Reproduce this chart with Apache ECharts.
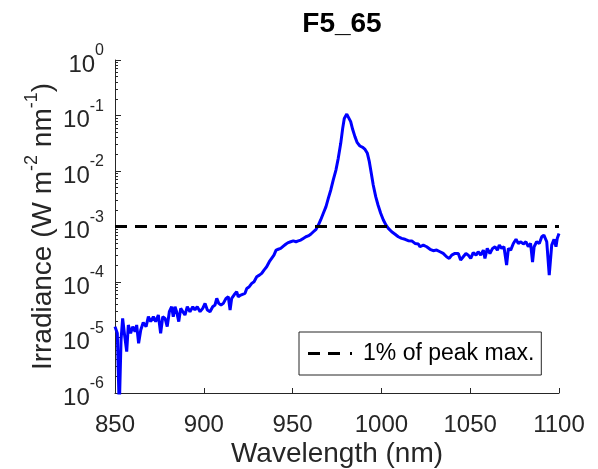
<!DOCTYPE html>
<html>
<head>
<meta charset="utf-8">
<style>html,body{margin:0;padding:0;background:#fff}#c{width:598px;height:469px}</style>
<script src="https://cdn.jsdelivr.net/npm/echarts@6/dist/echarts.min.js"></script>
</head>
<body>
<div id="c"></div>
<script>
const chartTitle = 'F5_65';
const wavelengths = [850,851.3,852.4,853.4,854.3,855.5,856.6,857.5,858.8,860,861.3,862.2,863.3,864.5,865.9,867.5,868.8,870.1,871.6,872.9,874.4,875.7,876.9,878.2,879.4,880.6,881.9,882.8,883.8,884.7,885.9,887,888.1,889.4,890.7,892.2,893.8,895,896.3,897.9,899.4,900.7,902,903.5,905,906.3,907.3,908.4,909.7,911,912.5,913.8,914.8,915.7,917,918.5,919.4,920.8,921.9,923.2,924.2,925.6,927,928.3,929.8,931.3,932.6,933.9,935.4,936.9,938.2,939.5,940.7,941.9,943.3,944.8,946.3,947.6,948.9,950.4,951.9,953.2,954.6,956,957.5,958.8,960.2,961.7,963.2,964.5,965.8,967.3,968.8,970.1,971.5,972.9,974.4,975.7,977.1,978.2,979.1,980.5,981.6,982.7,983.8,985.1,986.4,987.9,989.5,990.8,992.1,993.2,994.3,995.4,996.8,998.1,999.6,1001.1,1002.6,1003.9,1005.8,1007.7,1009.5,1011.4,1013.3,1015.1,1017.1,1018.9,1020.8,1021.7,1023.6,1025.5,1027.4,1029.2,1031.1,1033,1034.8,1036.7,1038.2,1039.6,1041.4,1043.3,1044.6,1046.1,1047.6,1048.9,1050.3,1051.7,1053.3,1054.5,1055.9,1057.4,1058.3,1059.6,1061.1,1062.6,1064,1065.3,1066.4,1067.7,1069,1070.5,1071.5,1072.8,1074.3,1075.8,1077.1,1078.5,1079.9,1081.4,1082.7,1084,1085.1,1086,1087.4,1088.9,1090.3,1091.5,1093.1,1094.5,1095.9,1097.2,1098.3,1099,1100];
const irradiance = [1.57e-5,1.19e-5,5e-7,9.0e-6,2.21e-5,1.04e-5,5.56e-6,1.68e-5,1.19e-5,1.57e-5,1.27e-5,1.68e-5,7.85e-6,1.36e-5,1.86e-5,1.57e-5,2.37e-5,1.93e-5,2.37e-5,1.93e-5,2.54e-5,1.19e-5,2.37e-5,2.21e-5,1.57e-5,2.92e-5,3.59e-5,2.37e-5,3.59e-5,2.92e-5,1.93e-5,3.35e-5,3.59e-5,2.54e-5,3.59e-5,2.92e-5,3.59e-5,3.13e-5,3.59e-5,2.92e-5,3.35e-5,4.12e-5,3.13e-5,2.92e-5,3.59e-5,3.85e-5,5.07e-5,4.12e-5,3.85e-5,4.12e-5,5.07e-5,5.43e-5,3.13e-5,5.07e-5,5.82e-5,6.68e-5,5.43e-5,5.82e-5,5.43e-5,6.24e-5,7.67e-5,8.22e-5,9.44e-5,1.01e-4,1.24e-4,1.33e-4,1.43e-4,1.64e-4,1.88e-4,2.32e-4,2.66e-4,3.05e-4,3.76e-4,3.89e-4,4.03e-4,4.42e-4,4.84e-4,5.13e-4,5.31e-4,5.50e-4,5.31e-4,5.50e-4,5.69e-4,6.10e-4,6.53e-4,6.76e-4,7.24e-4,8.04e-4,8.91e-4,1.06e-3,1.31e-3,1.73e-3,2.28e-3,3.21e-3,4.55e-3,6.89e-3,1.04e-2,1.69e-2,3.15e-2,5.86e-2,8.87e-2,1.06e-1,9.79e-2,7.74e-2,5.64e-2,4.16e-2,3.24e-2,2.82e-2,2.67e-2,2.45e-2,2.08e-2,1.47e-2,9.08e-3,5.60e-3,3.45e-3,2.44e-3,1.73e-3,1.31e-3,1.06e-3,9.27e-4,8.04e-4,7.24e-4,6.53e-4,6.10e-4,5.89e-4,5.56e-4,5.50e-4,4.95e-4,4.84e-4,4.32e-4,4.62e-4,4.32e-4,3.89e-4,3.67e-4,3.76e-4,3.51e-4,3.27e-4,2.85e-4,2.66e-4,3.05e-4,3.27e-4,3.27e-4,2.48e-4,2.85e-4,3.27e-4,3.05e-4,2.66e-4,3.39e-4,3.05e-4,3.51e-4,3.05e-4,3.76e-4,2.66e-4,4.03e-4,3.27e-4,4.03e-4,4.32e-4,3.76e-4,4.62e-4,4.03e-4,4.32e-4,2.02e-4,4.03e-4,3.76e-4,4.95e-4,5.89e-4,4.95e-4,5.31e-4,4.84e-4,5.31e-4,4.32e-4,4.95e-4,2.29e-4,4.32e-4,5.31e-4,4.95e-4,6.53e-4,7.00e-4,5.31e-4,1.33e-4,4.62e-4,5.89e-4,4.32e-4,6.10e-4,7.50e-4];
const thresholdLabel = '1% of peak max.';
const thresholdValue = 1e-3;
const thresholdRange = [850, 1100];
const xTicks = [850, 900, 950, 1000, 1050, 1100];
const yTickExponents = [-6, -5, -4, -3, -2, -1, 0];

const FONT = 'Liberation Sans, Arial, Helvetica, sans-serif';
const TXT = '#262626';

// minor tick positions (log10 space) for the decoration axis
const minorTicks = [];
for (let e = yTickExponents[0]; e < yTickExponents[yTickExponents.length - 1]; e++) {
  for (let k = 2; k <= 9; k++) minorTicks.push(e + Math.log10(k));
}

const chart = echarts.init(document.getElementById('c'), null, {renderer: 'canvas'});
chart.setOption({
  animation: false,
  backgroundColor: '#fff',
  title: {
    text: chartTitle, left: 337, top: 5, textAlign: 'center',
    textStyle: {fontFamily: FONT, fontSize: 28, fontWeight: 'bold', color: '#000'}
  },
  legend: {
    show: true,
    left: 299, top: 332, orient: 'vertical',
    padding: [10, 7, 10, 9],
    borderColor: TXT, borderWidth: 1,
    itemWidth: 44, itemHeight: 3,
    data: [{name: thresholdLabel, icon: 'path://M0,0h12v3h-12z M20,0h12v3h-12z M42,0h2v3h-2z'}],
    textStyle: {fontFamily: FONT, fontSize: 23, color: '#000', padding: [0, 0, 0, 6]}
  },
  grid: {left: 115, right: 39, top: 60, bottom: 76, containLabel: false, outerBoundsMode: 'none'},
  xAxis: {
    type: 'value', min: xTicks[0], max: xTicks[xTicks.length - 1], interval: 50,
    name: 'Wavelength (nm)', nameLocation: 'middle', nameGap: 47, nameMoveOverlap: false,
    nameTextStyle: {fontFamily: FONT, fontSize: 28, color: TXT},
    axisLine: {onZero: false, lineStyle: {color: TXT, width: 1}},
    axisTick: {inside: true, length: 5, lineStyle: {color: TXT}},
    axisLabel: {fontFamily: FONT, fontSize: 24, color: TXT, margin: 20, formatter: function (v) { return String(v); }},
    splitLine: {show: false}
  },
  yAxis: [{
    type: 'log', logBase: 10, min: Math.pow(10, yTickExponents[0]), max: Math.pow(10, yTickExponents[yTickExponents.length - 1]),
    interval: 1, splitNumber: 6,
    name: '{b|Irradiance (W m}{s|-2}{b| nm}{s|-1}{b|)}', nameLocation: 'middle', nameGap: 58, nameMoveOverlap: false,
    nameTextStyle: {
      fontFamily: FONT, color: TXT,
      rich: {
        b: {fontFamily: FONT, fontSize: 28, color: TXT, lineHeight: 34, verticalAlign: 'bottom'},
        s: {fontFamily: FONT, fontSize: 18, color: TXT, lineHeight: 20, verticalAlign: 'top'}
      }
    },
    axisLine: {show: true, onZero: false, lineStyle: {color: TXT, width: 1}},
    axisTick: {inside: true, length: 6, lineStyle: {color: TXT}},
    axisLabel: {
      margin: 11,
      formatter: function (v) { return '{b|10}{s|' + Math.round(Math.log10(v)) + '}'; },
      rich: {
        b: {fontFamily: FONT, fontSize: 24, color: TXT, lineHeight: 34, verticalAlign: 'bottom'},
        s: {fontFamily: FONT, fontSize: 16, color: TXT, lineHeight: 20, verticalAlign: 'top'}
      }
    },
    splitLine: {show: false}
  }, {
    type: 'value', min: yTickExponents[0], max: yTickExponents[yTickExponents.length - 1], position: 'left', offset: 0,
    axisLine: {show: false, onZero: false},
    axisLabel: {show: false, customValues: minorTicks},
    axisTick: {show: true, inside: true, length: 3, customValues: minorTicks, lineStyle: {color: TXT}},
    splitLine: {show: false}
  }],
  series: [{
    name: 'Irradiance', type: 'line', yAxisIndex: 0,
    data: wavelengths.map((w, i) => [w, irradiance[i]]),
    showSymbol: false, symbol: 'none',
    lineStyle: {color: '#0000ff', width: 3},
    itemStyle: {color: '#0000ff'},
    z: 3
  }, {
    name: thresholdLabel, type: 'line', yAxisIndex: 0,
    data: thresholdRange.map(w => [w, thresholdValue]),
    symbol: 'none',
    lineStyle: {color: '#000', width: 3, type: [12, 8]},
    itemStyle: {color: '#000'},
    z: 4
  }]
});
</script>
</body>
</html>
